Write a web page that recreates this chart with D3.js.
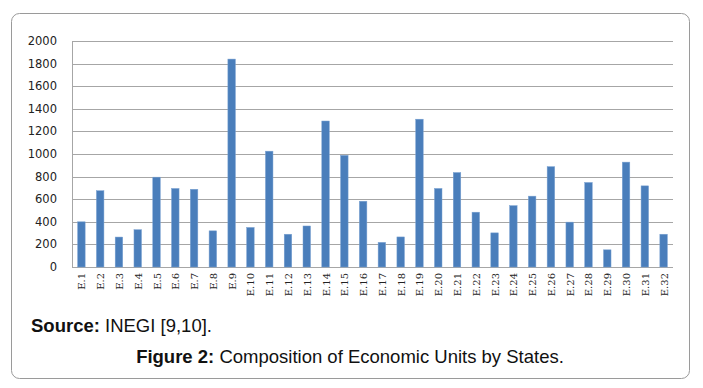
<!DOCTYPE html>
<html>
<head>
<meta charset="utf-8">
<script src="https://cdn.jsdelivr.net/npm/d3@7"></script>
<style>
  body { margin: 0; background: #fff; }
</style>
</head>
<body>
<script>
// data
var states = d3.range(1, 33).map(function(i) { return "E." + i; });
var units = [400, 675, 265, 330, 795, 695, 688, 320, 1840, 350,
             1025, 290, 363, 1292, 988, 582, 218, 266, 1308, 695,
             836, 485, 302, 543, 627, 888, 397, 748, 152, 928,
             718, 290];
var yTicks = [0, 200, 400, 600, 800, 1000, 1200, 1400, 1600, 1800, 2000];

const width = 703, height = 388;
const plot = { left: 72, right: 673, top: 41, bottom: 267 };

const svg = d3.select("body")
    .append("svg")
    .attr("width", width)
    .attr("height", height);

// outer frame
svg.append("rect")
    .attr("x", 11.5).attr("y", 13.5)
    .attr("width", 678).attr("height", 365)
    .attr("rx", 8).attr("ry", 8)
    .attr("fill", "none")
    .attr("stroke", "#9a9a9a")
    .attr("stroke-width", 1);

var x = d3.scaleBand()
    .domain(states)
    .range([plot.left, plot.right])
    .paddingInner(0.6)
    .paddingOuter(0.3);

var y = d3.scaleLinear()
    .domain([0, 2000])
    .range([plot.bottom, plot.top]);

// gridlines
svg.append("g")
    .selectAll("line")
    .data(yTicks)
    .enter()
    .append("line")
    .attr("x1", plot.left).attr("x2", plot.right)
    .attr("y1", d => Math.round(y(d)) + 0.5)
    .attr("y2", d => Math.round(y(d)) + 0.5)
    .attr("stroke", "#a6a6a6")
    .attr("stroke-width", 1.2);

// y axis line
svg.append("line")
    .attr("x1", plot.left + 0.5).attr("x2", plot.left + 0.5)
    .attr("y1", plot.top).attr("y2", plot.bottom)
    .attr("stroke", "#a6a6a6");

// y labels
svg.append("g")
    .selectAll("text")
    .data(yTicks)
    .enter()
    .append("text")
    .attr("x", 57)
    .attr("y", d => y(d))
    .attr("dy", "0.35em")
    .attr("text-anchor", "end")
    .attr("font-family", "DejaVu Sans")
    .attr("font-size", "11.5px")
    .attr("fill", "#222")
    .text(d => d);

// bars
svg.append("g")
    .selectAll("rect")
    .data(units)
    .enter()
    .append("rect")
    .attr("x", (d, i) => x(states[i]))
    .attr("y", d => y(d))
    .attr("width", x.bandwidth())
    .attr("height", d => y(0) - y(d))
    .attr("fill", "#4a7ebb")
    .attr("stroke", "#7aa2d2")
    .attr("stroke-width", 0.5);

// x labels, rotated
svg.append("g")
    .selectAll("text")
    .data(states)
    .enter()
    .append("text")
    .attr("transform", d => "translate(" + (x(d) + x.bandwidth() / 2 + 4) + "," + (plot.bottom + 6) + ") rotate(-90)")
    .attr("text-anchor", "end")
    .attr("font-family", "DejaVu Serif")
    .attr("font-size", "10px")
    .attr("fill", "#222")
    .text(d => d);

// source and caption
var src = svg.append("text")
    .attr("x", 31).attr("y", 332)
    .attr("font-family", "Liberation Sans, Arial")
    .attr("font-size", "18.5px")
    .attr("fill", "#111");
src.append("tspan").attr("font-weight", "bold").text("Source:");
src.append("tspan").text(" INEGI [9,10].");

var cap = svg.append("text")
    .attr("x", 350).attr("y", 363)
    .attr("text-anchor", "middle")
    .attr("font-family", "Liberation Sans, Arial")
    .attr("font-size", "18.5px")
    .attr("fill", "#111");
cap.append("tspan").attr("font-weight", "bold").text("Figure 2:");
cap.append("tspan").text(" Composition of Economic Units by States.");
</script>
</body>
</html>
